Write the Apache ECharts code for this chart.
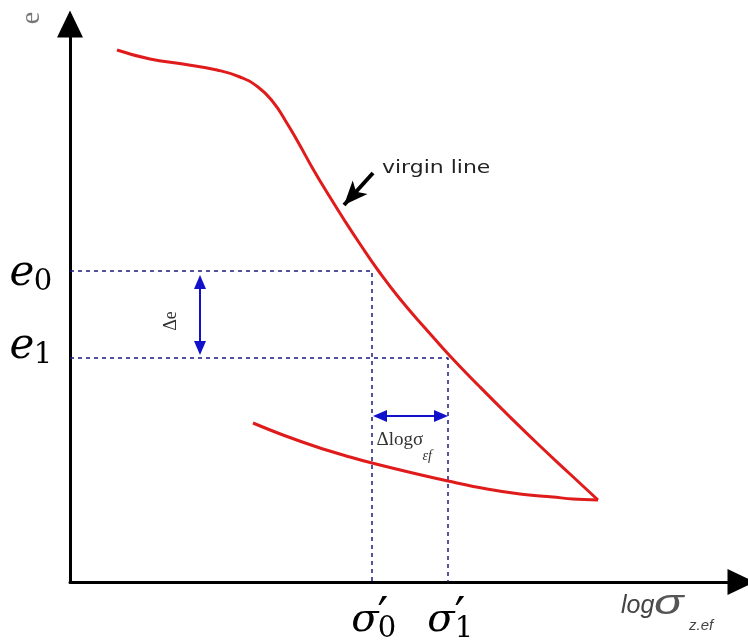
<!DOCTYPE html>
<html><head><meta charset="utf-8">
<script src="https://cdn.jsdelivr.net/npm/echarts@6/dist/echarts.min.js"></script>
<style>html,body{margin:0;padding:0;background:#fff}#c{width:748px;height:641px}</style>
</head><body><div id="c"></div>
<script>
// Virgin (loading) curve: log sigma (x) vs void ratio e (y), schematic units
const virginX = [47, 80, 113, 147, 170, 188, 203, 215, 228, 243, 258, 273, 290, 310, 330, 355, 380, 410, 440, 470, 500, 528];
const virginY = [532, 523, 518, 512, 505, 495, 480, 462, 440, 413, 388, 364, 338, 309, 283, 254, 226, 195, 165, 136, 108, 82];
// Unloading curve from the tip back to the left
const unloadX = [528, 503, 483, 450, 417, 378, 347, 302, 280, 247, 213, 183];
const unloadY = [82, 83, 85, 88, 93, 101, 108, 119, 125, 135, 147, 159];
// Reference levels
const e0 = 311, e1 = 224;
const sigma0 = 302, sigma1 = 378;
// Annotation anchors
const deltaEx = 130, deltaEtop = 300, deltaEbottom = 234;
const deltaLogY = 166, deltaLogLeft = 310, deltaLogRight = 371;
const pointerFrom = [303, 409], pointerTo = [274, 377];
const xMax = 671, yMax = 558;

const red = '#e01b1b';
const navy = '#1a1a80';
const blue = '#1111cc';

const zip = (xs, ys) => xs.map((x, i) => [x, ys[i]]);

const chart = echarts.init(document.getElementById('c'), null, {renderer: 'canvas'});
const option = {
  animation: false,
  backgroundColor: '#ffffff',
  grid: {left: 70, right: 7, top: 24, bottom: 59, containLabel: false, outerBoundsMode: 'none'},
  xAxis: {
    type: 'value', min: 0, max: xMax,
    axisLine: {show: true, onZero: false, symbol: ['none', 'triangle'], symbolSize: [26, 27],
      lineStyle: {color: '#000', width: 3}},
    axisTick: {show: false}, axisLabel: {show: false}, splitLine: {show: false}
  },
  yAxis: {
    type: 'value', min: 0, max: yMax,
    axisLine: {show: true, onZero: false, symbol: ['none', 'triangle'], symbolSize: [26, 27],
      lineStyle: {color: '#000', width: 3}},
    axisTick: {show: false}, axisLabel: {show: false}, splitLine: {show: false}
  },
  series: [
    {type: 'line', data: [[0, e0], [sigma0, e0], [sigma0, 0]], showSymbol: false, silent: true,
      lineStyle: {color: navy, width: 1.5, type: [4, 4]}},
    {type: 'line', data: [[0, e1], [sigma1, e1], [sigma1, 0]], showSymbol: false, silent: true,
      lineStyle: {color: navy, width: 1.5, type: [4, 4]}},
    {type: 'line', data: zip(virginX, virginY), smooth: 0.5, showSymbol: false, silent: true,
      lineStyle: {color: red, width: 3}},
    {type: 'line', data: zip(unloadX, unloadY), smooth: 0.4, showSymbol: false, silent: true,
      lineStyle: {color: red, width: 3},
      markLine: {
        silent: true, animation: false,
        label: {show: false}, emphasis: {disabled: true},
        data: [
          [{coord: [deltaEx, deltaEtop], symbol: 'triangle', symbolSize: [12, 14], lineStyle: {color: blue, width: 2, type: 'solid'}},
           {coord: [deltaEx, deltaEbottom], symbol: 'triangle', symbolSize: [12, 14]}],
          [{coord: [deltaLogLeft, deltaLogY], symbol: 'triangle', symbolSize: [12, 14], lineStyle: {color: blue, width: 2, type: 'solid'}},
           {coord: [deltaLogRight, deltaLogY], symbol: 'triangle', symbolSize: [12, 14]}],
          [{coord: pointerFrom, symbol: 'none', lineStyle: {color: '#000', width: 4, type: 'solid'}},
           {coord: pointerTo, symbol: 'arrow', symbolSize: [15, 24]}]
        ],
        itemStyle: {color: blue}
      }}
  ]
};
chart.setOption(option);

const P = (x, y) => chart.convertToPixel({gridIndex: 0}, [x, y]);
const pe0 = P(0, e0), pe1 = P(0, e1), ps0 = P(sigma0, 0), ps1 = P(sigma1, 0);
const pDE = P(deltaEx, (deltaEtop + deltaEbottom) / 2);
const pDL = P((deltaLogLeft + deltaLogRight) / 2, deltaLogY);
const pPtr = P(pointerFrom[0], pointerFrom[1]);

const math = '"DejaVu Serif", "Liberation Serif", serif';
const sans = '"Liberation Sans", Arial, sans-serif';
const T = (x, y, text, opts) => ({type: 'text', x: x, y: y, silent: true,
  style: Object.assign({text: text, fill: '#000', align: 'center', verticalAlign: 'middle'}, opts)});

chart.setOption({
  graphic: [
    // e0, e1
    T(22, pe0[1] + 3, 'e', {fontFamily: math, fontStyle: 'italic', fontSize: 42}),
    T(43, pe0[1] + 11, '0', {fontFamily: math, fontSize: 29}),
    T(22, pe1[1] - 11, 'e', {fontFamily: math, fontStyle: 'italic', fontSize: 42}),
    T(43, pe1[1] - 3, '1', {fontFamily: math, fontSize: 29}),
    // sigma'0, sigma'1
    T(ps0[0] - 7, 621, 'σ', {fontFamily: math, fontStyle: 'italic', fontSize: 40}),
    T(ps0[0] + 11, 619, '′', {fontFamily: '"DejaVu Sans", sans-serif', fontSize: 48}),
    T(ps0[0] + 15, 629, '0', {fontFamily: math, fontSize: 29}),
    T(ps1[0] - 7, 621, 'σ', {fontFamily: math, fontStyle: 'italic', fontSize: 40}),
    T(ps1[0] + 12, 619, '′', {fontFamily: '"DejaVu Sans", sans-serif', fontSize: 48}),
    T(ps1[0] + 16, 629, '1', {fontFamily: math, fontSize: 29}),
    // axis title
    T(621, 606, 'log', {fontFamily: sans, fontStyle: 'italic', fontSize: 25, fill: '#444', align: 'left'}),
    Object.assign(T(654, 604, 'σ', {fontFamily: sans, fontStyle: 'italic', fontSize: 35, fill: '#555', align: 'left'}), {scaleX: 1.4}),
    T(689, 626, 'z.ef', {fontFamily: sans, fontStyle: 'italic', fontSize: 15, fill: '#444', align: 'left'}),
    // y axis title (rotated)
    Object.assign(T(32, 18, 'e', {fontFamily: '"Liberation Serif", serif', fontSize: 28, fill: '#777'}), {rotation: Math.PI / 2}),
    // delta e label (rotated)
    Object.assign(T(pDE[0] - 29, pDE[1] + 6, 'Δe', {fontFamily: '"Liberation Serif", serif', fontSize: 18, fill: '#333'}), {rotation: Math.PI / 2}),
    // delta log sigma label
    T(pDL[0] - 34, pDL[1] + 24, 'Δlogσ', {fontFamily: '"Liberation Serif", serif', fontSize: 19, fill: '#333', align: 'left'}),
    T(pDL[0] + 12, pDL[1] + 40, 'εf', {fontFamily: '"Liberation Serif", serif', fontStyle: 'italic', fontSize: 14, fill: '#333', align: 'left'}),
    // virgin line label
    Object.assign(T(pPtr[0] + 9, pPtr[1] - 5, 'virgin line', {fontFamily: '"DejaVu Sans", sans-serif', fontSize: 18, fill: '#222', align: 'left'}), {scaleX: 1.22})
  ]
});
</script>
</body></html>
